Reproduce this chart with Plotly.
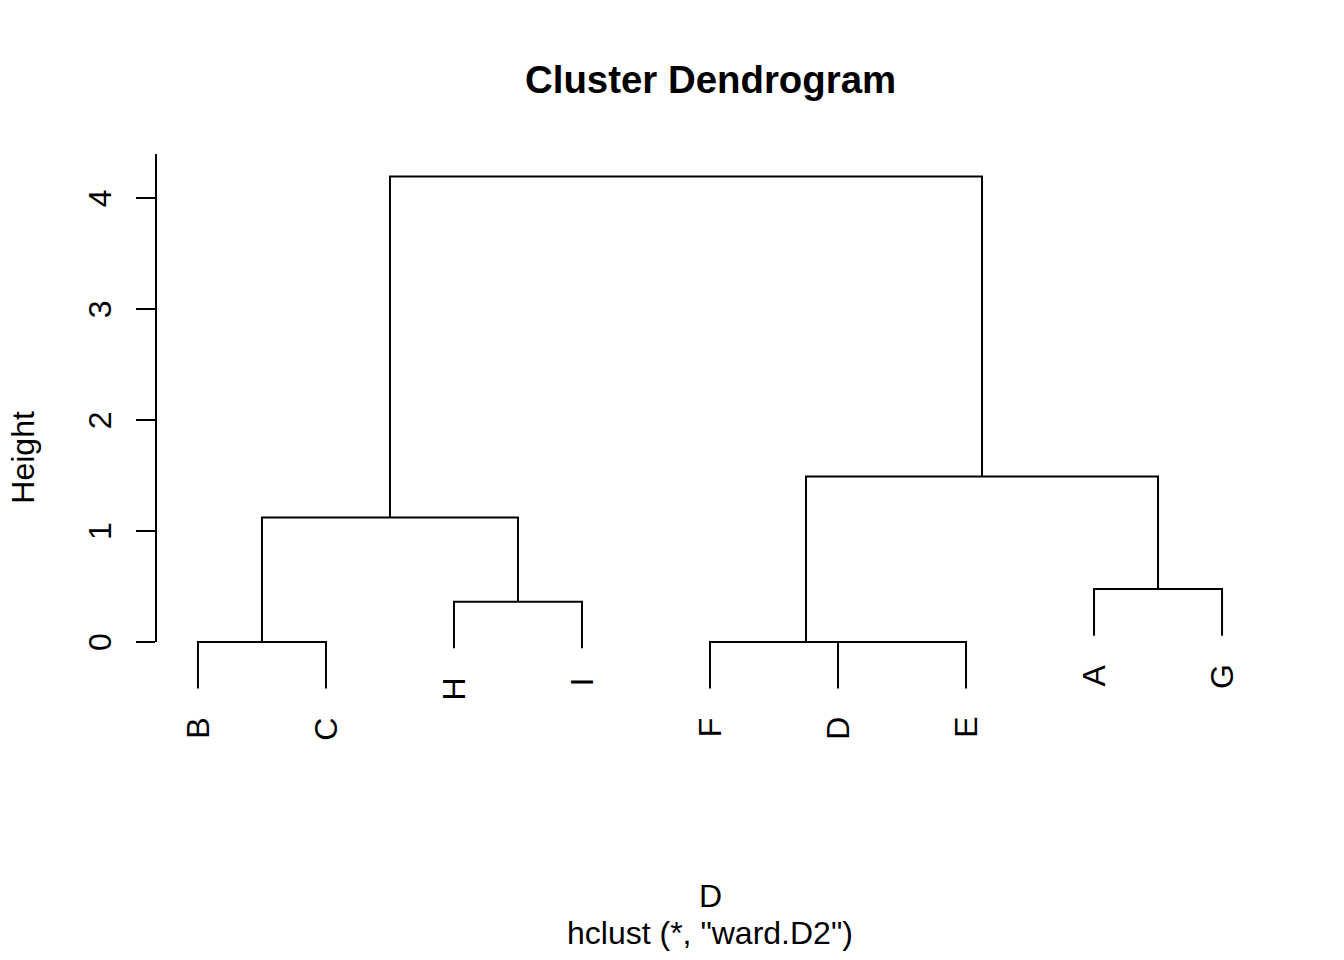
import plotly.graph_objects as go

# ---- data (R hclust style) ----
labels = ["A", "B", "C", "D", "E", "F", "G", "H", "I"]
leaf_order = ["B", "C", "H", "I", "F", "D", "E", "A", "G"]
# merge rows: negative = leaf (1-based index in labels), positive = earlier merge step
merge_left = [-2, -4, -6, -8, -1, 1, 3, 6]
merge_right = [-3, -5, 2, -9, -7, 4, 5, 7]
merge_height = [0.0, 0.0, 0.0, 0.363, 0.476, 1.122, 1.491, 4.196]
y_ticks = [0, 1, 2, 3, 4]

title_text = "Cluster Dendrogram"
ylab_text = "Height"
xlab_text = "D"
sub_text = 'hclust (*, "ward.D2")'

hang = 0.1 * max(merge_height)
FONT = "Liberation Sans, Arial, sans-serif"

# ---- geometry from the merge table ----
leaf_x = {lab: i + 1 for i, lab in enumerate(leaf_order)}
node_x, node_h = {}, {}
seg_x, seg_y = [], []
leaf_end = {}


def child_info(c, h):
    if c < 0:
        lab = labels[-c - 1]
        leaf_end[lab] = h - hang
        return leaf_x[lab], h - hang
    return node_x[c], node_h[c]


for k, (l, r, h) in enumerate(zip(merge_left, merge_right, merge_height), start=1):
    xl, yl = child_info(l, h)
    xr, yr = child_info(r, h)
    seg_x += [xl, xl, xr, xr, None]
    seg_y += [yl, h, h, yr, None]
    node_x[k] = (xl + xr) / 2
    node_h[k] = h

# ---- layout mapping (pixels) ----
W, H = 1344, 960
ML, MR = 157, 81
PX_PER_X = 128.0
PX_PER_Y = 112.0
Y0_PIX = 648.0
x_lo = 1 - 0.04 * (len(leaf_order) - 1)
x_hi = len(leaf_order) + 0.04 * (len(leaf_order) - 1)
y_top = Y0_PIX / PX_PER_Y
y_bot = -(H - Y0_PIX) / PX_PER_Y
AXIS_TOP_PIX = 155.0
plot_w = W - ML - MR


def px_paper_x(px):
    return (px - ML) / plot_w


def px_paper_y(py):
    return 1 - py / H


fig = go.Figure()
fig.add_trace(go.Scatter(x=seg_x, y=seg_y, mode="lines",
                         line=dict(color="black", width=2),
                         hoverinfo="skip", showlegend=False))
# dummy trace to activate the visible height axis
fig.add_trace(go.Scatter(x=[None], y=[None], yaxis="y2", mode="lines",
                         showlegend=False, hoverinfo="skip"))

annotations = []
for lab in leaf_order:
    annotations.append(dict(
        x=leaf_x[lab], y=leaf_end[lab] - 27 / PX_PER_Y, xref="x", yref="y",
        text=lab, showarrow=False, textangle=-90,
        xanchor="center", yanchor="top",
        font=dict(family=FONT, size=32, color="black")))

annotations += [
    dict(x=0.5, y=px_paper_y(80), xref="paper", yref="paper", text="<b>" + title_text + "</b>",
         showarrow=False, xanchor="center", yanchor="middle",
         font=dict(family=FONT, size=38.4, color="black")),
    dict(x=px_paper_x(23), y=px_paper_y(462), xref="paper", yref="paper", text=ylab_text,
         showarrow=False, textangle=-90, xanchor="center", yanchor="middle",
         font=dict(family=FONT, size=32, color="black")),
    dict(x=0.5, y=px_paper_y(904), xref="paper", yref="paper", text=xlab_text,
         showarrow=False, xanchor="center", yanchor="middle",
         font=dict(family=FONT, size=32, color="black")),
    dict(x=0.5, y=px_paper_y(942), xref="paper", yref="paper", text=sub_text,
         showarrow=False, xanchor="center", yanchor="middle",
         font=dict(family=FONT, size=32, color="black")),
]

fig.update_layout(
    width=W, height=H,
    margin=dict(l=ML, r=MR, t=0, b=0, pad=0),
    paper_bgcolor="white", plot_bgcolor="rgba(0,0,0,0)",
    showlegend=False,
    xaxis=dict(range=[x_lo, x_hi], visible=False, fixedrange=True),
    yaxis=dict(range=[y_bot, y_top], visible=False, fixedrange=True),
    yaxis2=dict(
        domain=[px_paper_y(Y0_PIX), px_paper_y(AXIS_TOP_PIX)],
        range=[0, (Y0_PIX - AXIS_TOP_PIX) / PX_PER_Y],
        anchor="x", side="left",
        showline=True, linecolor="black", linewidth=2,
        ticks="outside", ticklen=19, tickwidth=2, tickcolor="black",
        tickvals=y_ticks, ticktext=[str(v) for v in y_ticks],
        tickangle=-90, ticklabelstandoff=12, ticklabelshift=5,
        tickfont=dict(family=FONT, size=32, color="black"),
        showgrid=False, zeroline=False, fixedrange=True),
    annotations=annotations,
)

fig.write_html("out.html")
